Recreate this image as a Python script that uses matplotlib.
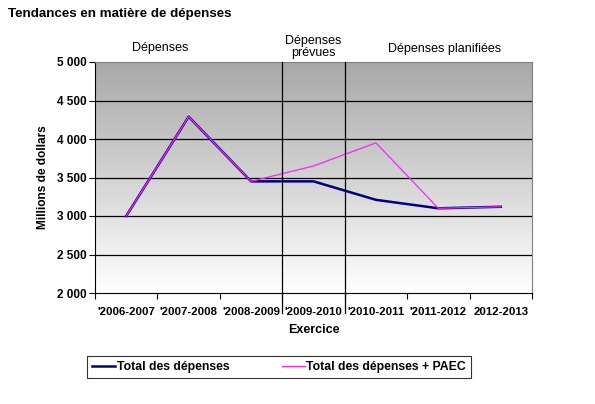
import matplotlib
matplotlib.use("Agg")
import matplotlib.pyplot as plt
import numpy as np
from matplotlib.lines import Line2D

plt.rcParams["font.family"] = ["Liberation Sans", "DejaVu Sans"]

years = ["'2006-2007", "'2007-2008", "'2008-2009", "'2009-2010",
         "'2010-2011", "'2011-2012", "2012-2013"]
total = [3000, 4290, 3450, 3450, 3210, 3100, 3120]
total_paec = [3000, 4290, 3450, 3650, 3950, 3100, 3120]
y_ticks = [2000, 2500, 3000, 3500, 4000, 4500, 5000]
sections = ["Dépenses", "Dépenses\nprévues", "Dépenses planifiées"]

fig = plt.figure(figsize=(5.95, 4.04), dpi=100)
ax = fig.add_axes([95 / 595, 1 - 293 / 404, 437 / 595, 231 / 404])

x = np.arange(len(years))
ax.set_xlim(-0.5, len(years) - 0.5)
ax.set_ylim(2000, 5000)

# background gradient: gray at top, white at bottom
grad = np.linspace(0, 1, 256).reshape(-1, 1)
ax.imshow(grad, extent=[0, 1, 0, 1], transform=ax.transAxes,
          cmap=matplotlib.colors.LinearSegmentedColormap.from_list(
              "g", ["#a8a8a8", "#ffffff"]),
          aspect="auto", zorder=0, origin="upper")

for v in y_ticks[1:-1]:
    ax.axhline(v, color="black", lw=0.9, zorder=1)

ax.plot(x, total, color="#000080", lw=1.8, zorder=3,
        label="Total des dépenses")
ax.plot(x, total_paec, color="#ff22ff", lw=0.9, zorder=4,
        label="Total des dépenses + PAEC")

# period dividers
for b in [2.5, 3.5]:
    ax.add_line(Line2D([b, b], [1, -0.087], color="black", lw=0.9,
                       transform=ax.get_xaxis_transform(), clip_on=False,
                       zorder=5))

for s in ["top", "right"]:
    ax.spines[s].set_color("#808080")
for s in ["left", "bottom"]:
    ax.spines[s].set_color("black")

ax.set_yticks(y_ticks)
ax.set_yticklabels([f"{v:,}".replace(",", " ") for v in y_ticks],
                   fontsize=8.5, fontweight="bold")
ax.tick_params(axis="y", length=4, width=0.8, pad=2)

ax.set_xticks(x)
ax.set_xticklabels(years, fontsize=8.2, fontweight="bold")
ax.tick_params(axis="x", which="major", length=0, pad=10)
ax.set_xticks(np.arange(-0.5, len(years)), minor=True)
ax.tick_params(axis="x", which="minor", length=4, width=0.8)

ax.set_xlabel("Exercice", fontsize=9, fontweight="bold", labelpad=5)
ax.set_ylabel("Millions de dollars", fontsize=8.6, fontweight="bold",
              labelpad=6)

fig.text(8 / 595, 1 - 14 / 404, "Tendances en matière de dépenses",
         fontsize=9.6, fontweight="bold", va="center", ha="left")

tr = ax.get_xaxis_transform()
ax.text(0.55, 1.06, sections[0], transform=tr, ha="center", va="center",
        fontsize=9)
ax.text(3.0, 1.063, sections[1], transform=tr, ha="center", va="center",
        fontsize=9, linespacing=1.0)
ax.text(5.1, 1.055, sections[2], transform=tr, ha="center", va="center",
        fontsize=9)

leg = fig.legend(loc="center", bbox_to_anchor=(279 / 595, 1 - 367 / 404),
                 ncol=2, frameon=True, fancybox=False, edgecolor="black",
                 handlelength=1.9, handletextpad=0.1, columnspacing=4.3,
                 borderpad=0.4, prop={"size": 8.8, "weight": "bold"})
leg.get_frame().set_linewidth(0.8)

fig.savefig("out.png", dpi=100)
